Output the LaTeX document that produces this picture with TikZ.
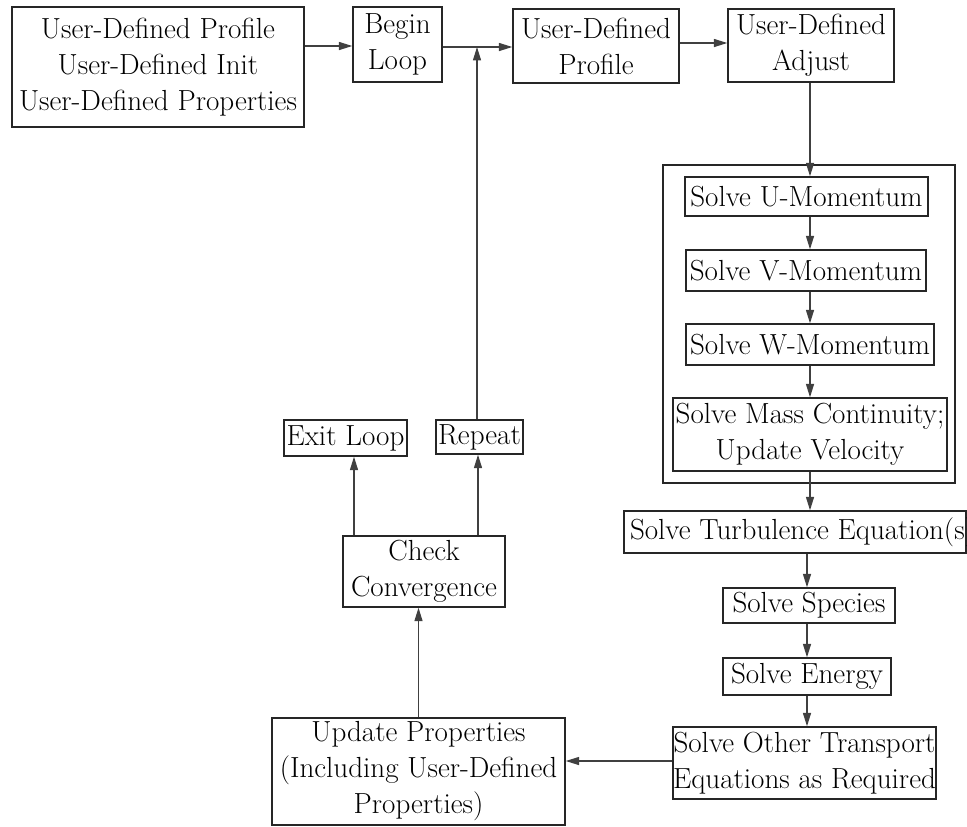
\documentclass[tikz,border=0pt]{standalone}
\usepackage{fontspec}
\usetikzlibrary{arrows.meta}
\begin{document}
\begin{tikzpicture}[x=0.75pt,y=-0.75pt,
  bx/.style n args={2}{draw=black!85, line width=1.1pt, minimum width=#1*0.75pt, minimum height=#2*0.75pt, inner sep=0pt, align=center, font=\fontsize{21.8}{27}\selectfont},
  arr/.style={draw=black!75, line width=0.9pt, -{Triangle[length=10pt,width=6pt]}}]
\useasboundingbox (0,0) rectangle (967,826);
\clip (0,0) rectangle (967,826);
% boxes
\node[bx={292}{120}] (b1) at (158,67) {User-Defined Profile\\User-Defined Init\\User-Defined Properties};
\node[bx={89}{75}] (begin) at (397.5,44.5) {Begin\\Loop};
\node[bx={166}{74}] (udp) at (596,46) {User-Defined\\Profile};
\node[bx={166}{73}] (uda) at (811,45.5) {User-Defined\\Adjust};
\node[bx={292}{318}] (outer) at (809,324) {};
\node[bx={243}{39}] (um) at (806.5,196.5) {Solve U-Momentum};
\node[bx={240}{41}] (vm) at (806,270.5) {Solve V-Momentum};
\node[bx={248}{41}] (wm) at (810,344.5) {Solve W-Momentum};
\node[bx={274}{73}] (mass) at (810,434.5) {Solve Mass Continuity;\\Update Velocity};
\node[bx={342}{42}] (turb) at (795,532) {\makebox[247.5pt][l]{Solve Turbulence Equation(s)}};
\node[bx={172}{35}] (spec) at (809,605.5) {Solve Species};
\node[bx={168}{37}] (ener) at (807,676.5) {Solve Energy};
\node[bx={263}{72}] (oth) at (804.5,763) {Solve Other Transport\\Equations as Required};
\node[bx={293}{107}] (upd) at (418.5,771.5) {Update Properties\\(Including User-Defined\\Properties)};
\node[bx={162}{71}] (chk) at (424,571.5) {Check\\Convergence};
\node[bx={123}{36}] (exit) at (345.5,438) {Exit Loop};
\node[bx={87}{34}] (rep) at (479.5,437) {Repeat};
\coordinate (join) at (477,47);
% connectors
\draw[arr] (b1.east |- 0,46) -- (begin.west |- 0,46);
\draw[arr] (begin.east |- 0,47) -- (udp.west |- 0,47);
\draw[arr] (udp.east |- 0,43) -- (uda.west |- 0,43);
\draw[arr] (uda.south -| 810,0) -- (um.north -| 810,0);
\draw[arr] (um.south -| 810,0) -- (vm.north -| 810,0);
\draw[arr] (vm.south -| 810,0) -- (wm.north -| 810,0);
\draw[arr] (wm.south -| 810,0) -- (mass.north -| 810,0);
\draw[arr] (mass.south -| 810,0) -- (turb.north -| 810,0);
\draw[arr] (turb.south -| 807,0) -- (spec.north -| 807,0);
\draw[arr] (spec.south -| 807,0) -- (ener.north -| 807,0);
\draw[arr] (ener.south -| 807,0) -- (oth.north -| 807,0);
\draw[arr] (oth.west |- 0,761) -- (upd.east |- 0,761);
\draw[arr] (upd.north) -- (upd.north |- chk.south);
\draw[arr] (chk.north -| 354,0) -- (exit.south -| 354,0);
\draw[arr] (chk.north -| 478,0) -- (rep.south -| 478,0);
\draw[arr] (rep.north -| join) -- (join);
\end{tikzpicture}
\end{document}
